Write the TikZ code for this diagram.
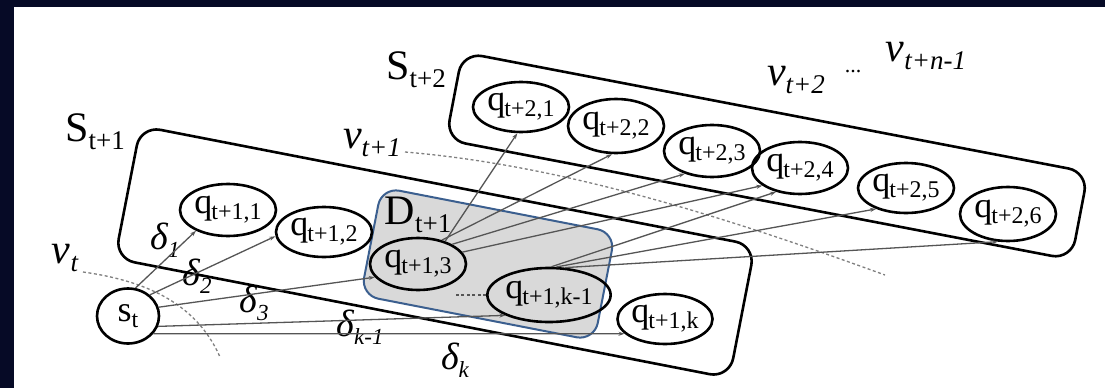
\documentclass[tikz,border=0pt]{standalone}
\usepackage{fontspec}
\setmainfont{Liberation Serif}
\usetikzlibrary{arrows.meta,shapes.geometric}
\definecolor{navy}{HTML}{060A26}
\definecolor{dblue}{HTML}{3B5F8F}
\definecolor{dgray}{HTML}{D9D9D9}
\definecolor{egray}{HTML}{555555}
\newcommand{\ql}[1]{\fontsize{36}{36}\selectfont q\kern-1pt\raisebox{-6pt}{\fontsize{24}{24}\selectfont #1}}
\newcommand{\biglab}[2]{\fontsize{42}{42}\selectfont #1\raisebox{-8pt}{\fontsize{27}{27}\selectfont #2}}
\newcommand{\vl}[1]{\fontsize{42}{42}\selectfont\itshape v\raisebox{-8pt}{\fontsize{27}{27}\selectfont #1}}
\newcommand{\dl}[1]{\fontsize{38}{38}\selectfont\itshape δ\raisebox{-8pt}{\fontsize{23}{23}\selectfont #1}}
\begin{document}
\begin{tikzpicture}[x=1pt,y=-1pt,
  grp/.style={draw=black, line width=2.6pt, rounded corners=20pt, rotate=-11, inner sep=0pt},
  qn/.style={ellipse, draw=black, line width=2.6pt, minimum width=96pt, minimum height=52pt, inner sep=0pt},
  edge/.style={draw=egray, line width=1.3pt, -{Stealth[length=6pt,width=4pt]}},
  iso/.style={draw=gray, line width=1.3pt, dash pattern=on 3pt off 2.5pt},
  lab/.style={inner sep=0pt}]
\useasboundingbox (0,0) rectangle (1105,388);
\fill[white] (0,0) rectangle (1105,388);
\fill[navy] (0,0) rectangle (1105,7);
\fill[navy] (0,0) rectangle (14,388);

% group boxes
\node[grp, minimum width=626pt, minimum height=135pt] (S1) at (435,252) {};
\node[grp, minimum width=637pt, minimum height=89pt, rotate=0.15] (S2) at (767,156) {};
\node[grp, draw=dblue, fill=dgray, line width=2pt, rounded corners=18pt, minimum width=238pt, minimum height=110pt] (D1) at (488,264) {};

% nodes
\node[qn, minimum width=62pt, minimum height=55pt] (st) at (128,316) {\fontsize{36}{36}\selectfont s\raisebox{-6pt}{\fontsize{24}{24}\selectfont t}};
\node[qn] (q11) at (228,210) {\ql{t+1,1}};
\node[qn, minimum height=50pt] (q12) at (324,232) {\ql{t+1,2}};
\node[qn] (q13) at (418,264) {\ql{t+1,3}};
\node[qn, minimum width=112pt, minimum height=54pt] (qk1) at (549,295) {\ql{t+1,k-1}};
\node[qn, minimum width=94pt, minimum height=50pt] (qk) at (665,319) {\ql{t+1,k}};
\node[qn, minimum height=50pt] (q21) at (521,107) {\ql{t+2,1}};
\node[qn, minimum height=54pt] (q22) at (616,126) {\ql{t+2,2}};
\node[qn] (q23) at (712,151) {\ql{t+2,3}};
\node[qn] (q24) at (800,168) {\ql{t+2,4}};
\node[qn, minimum height=50pt] (q25) at (906,188) {\ql{t+2,5}};
\node[qn, minimum height=54pt] (q26) at (1008,214) {\ql{t+2,6}};

% labels
\node[lab] (lS1) at (95,132) {\biglab{S}{t+1}};
\node[lab] (lS2) at (416,70) {\biglab{S}{t+2}};
\node[lab] (lD1) at (418,215) {\biglab{D}{t+1}};
\node[lab] (lvt) at (65,258) {\vl{t}};
\node[lab] (lvt1) at (372,143) {\vl{t+1}};
\node[lab] (lvt2) at (796,80) {\vl{t+2}};
\node[lab] (ldots) at (853,72) {\fontsize{22}{22}\selectfont ...};
\node[lab] (lvtn) at (926,56) {\vl{t+n-1}};
\node[lab] (d1) at (165,240) {\dl{1}};
\node[lab] (d2) at (197,276) {\dl{2}};
\node[lab] (d3) at (254,303) {\dl{3}};
\node[lab] (dk1) at (360,327) {\dl{k-1}};
\node[lab] (dk) at (455,360) {\dl{k}};

% isochrone curves
\coordinate (vt0) at (83,272);
\coordinate (vt9) at (220,357);
\coordinate (vu0) at (405,152);
\coordinate (vu9) at (885,275);
\draw[iso] (vt0) .. controls (140,280) and (195,300) .. (vt9);
\draw[iso] (vu0) .. controls (560,165) and (720,215) .. (vu9);

% edges from s_t
\draw[edge] (st.75) -- (q11.213);
\draw[edge] (st.44) -- (q12.185);
\draw[edge] (st.16) -- (q13.197);
\draw[edge] (st.341) -- (qk1.205);
\draw[edge] (st.325) -- (qk.200);

% edges to S_{t+2}
\draw[edge] (q13.40) -- (q21.262);
\draw[edge] (q13.45) -- (q22.262);
\draw[edge] (q13.30) -- (q23.220);
\draw[edge] (q13.15) -- (q24.205);
\draw[edge] (qk1.85) -- (q24.225);
\draw[edge] (qk1.75) -- (q25.215);
\draw[edge] (qk1.60) -- (q26.250);
\draw[iso, draw=egray] (qk1.west) -- ++(-32,0);
\end{tikzpicture}
\end{document}
